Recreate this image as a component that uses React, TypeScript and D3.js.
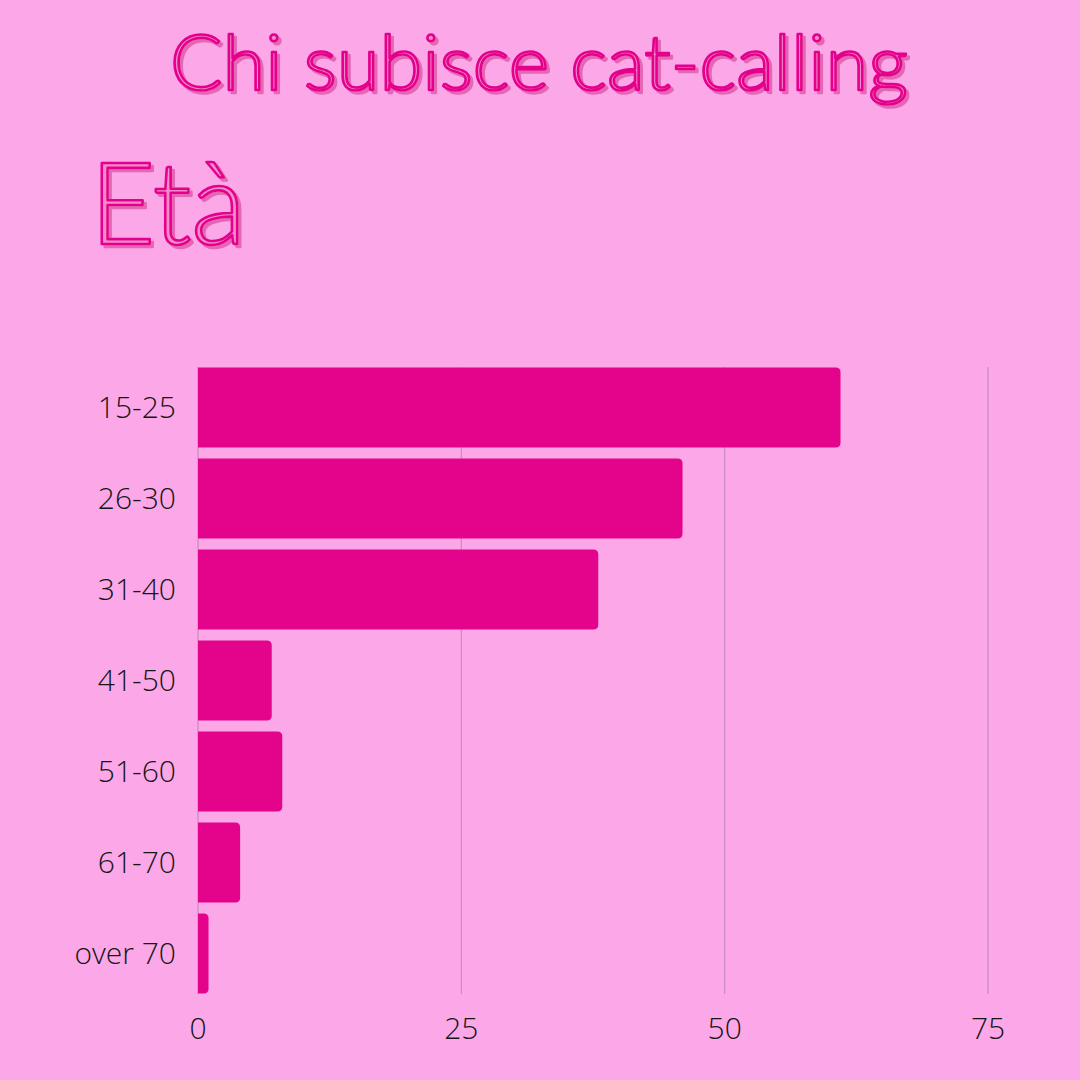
import { useEffect, useRef } from "react";
import * as d3 from "d3";

const categories = ["15-25", "26-30", "31-40", "41-50", "51-60", "61-70", "over 70"];
const values = [61, 46, 38, 7, 8, 4, 1];
const xTicks = [0, 25, 50, 75];

const W = 1080;
const H = 1080;
const BG = "#fca8e8";
const PINK = "#e4048c";

// bar with rounded right corners only
const barPath = (x0: number, x1: number, y: number, h: number, r: number) => {
  const rr = Math.min(r, (x1 - x0) / 2, h / 2);
  return `M${x0},${y}H${x1 - rr}Q${x1},${y} ${x1},${y + rr}V${y + h - rr}Q${x1},${y + h} ${x1 - rr},${y + h}H${x0}Z`;
};

const App = () => {
  const svgRef = useRef<SVGSVGElement>(null);

  useEffect(() => {
    const svg = d3.select(svgRef.current);
    svg.selectAll("*").remove();

    // shadow filter for the outlined titles
    const f = svg
      .append("defs")
      .append("filter")
      .attr("id", "shadow")
      .attr("x", "-10%")
      .attr("y", "-10%")
      .attr("width", "120%")
      .attr("height", "130%");
    f.append("feOffset").attr("in", "SourceAlpha").attr("dx", 3).attr("dy", 3).attr("result", "off");
    f.append("feFlood").attr("flood-color", "#e466b4").attr("result", "col");
    f.append("feComposite").attr("in", "col").attr("in2", "off").attr("operator", "in").attr("result", "sh");
    const m = f.append("feMerge");
    m.append("feMergeNode").attr("in", "sh");
    m.append("feMergeNode").attr("in", "SourceGraphic");

    svg.append("rect").attr("width", W).attr("height", H).attr("fill", BG);

    const outlined = (txt: string, x: number, y: number, size: number, len: number) => {
      svg
        .append("text")
        .attr("x", x)
        .attr("y", y)
        .attr("font-family", "Lato, 'Noto Sans', sans-serif")
        .attr("font-weight", 300)
        .attr("font-size", size)
        .attr("textLength", len)
        .attr("lengthAdjust", "spacingAndGlyphs")
        .attr("fill", "#f48ccc")
        .attr("stroke", PINK)
        .attr("stroke-width", 2.6)
        .attr("stroke-linejoin", "round")
        .attr("filter", "url(#shadow)")
        .text(txt);
    };
    outlined("Chi subisce cat-calling", 170, 90, 76, 738);
    outlined("Età", 90, 244, 114, 156);

    const x = d3.scaleLinear().domain([0, 75]).range([198, 988]);
    const y = d3
      .scaleBand()
      .domain(categories)
      .range([362, 999])
      .paddingInner(0.12)
      .paddingOuter(0.06);

    // gridlines
    svg
      .append("g")
      .selectAll("line")
      .data(xTicks)
      .join("line")
      .attr("x1", (d) => x(d))
      .attr("x2", (d) => x(d))
      .attr("y1", 367)
      .attr("y2", 994)
      .attr("stroke", "#c98cbd")
      .attr("stroke-width", 1.2);

    // bars
    svg
      .append("g")
      .selectAll("path")
      .data(values)
      .join("path")
      .attr("d", (d, i) => barPath(x(0), x(d), y(categories[i]), y.bandwidth(), 5))
      .attr("fill", PINK);

    const font = "'Open Sans', 'Noto Sans', sans-serif";

    // category labels
    svg
      .append("g")
      .selectAll("text")
      .data(categories)
      .join("text")
      .attr("x", 176)
      .attr("y", (d) => y(d) + y.bandwidth() / 2)
      .attr("dy", "0.35em")
      .attr("text-anchor", "end")
      .attr("font-family", font)
      .attr("font-weight", 300)
      .attr("font-size", 30)
      .attr("fill", "#161616")
      .text((d) => d);

    // x tick labels
    svg
      .append("g")
      .selectAll("text")
      .data(xTicks)
      .join("text")
      .attr("x", (d) => x(d))
      .attr("y", 1028)
      .attr("dy", "0.35em")
      .attr("text-anchor", "middle")
      .attr("font-family", font)
      .attr("font-weight", 300)
      .attr("font-size", 30)
      .attr("fill", "#161616")
      .text((d) => d);
  }, []);

  return (
    <svg
      ref={svgRef}
      width={W}
      height={H}
      style={{ position: "absolute", left: 0, top: 0, display: "block" }}
    />
  );
};

export default App;
